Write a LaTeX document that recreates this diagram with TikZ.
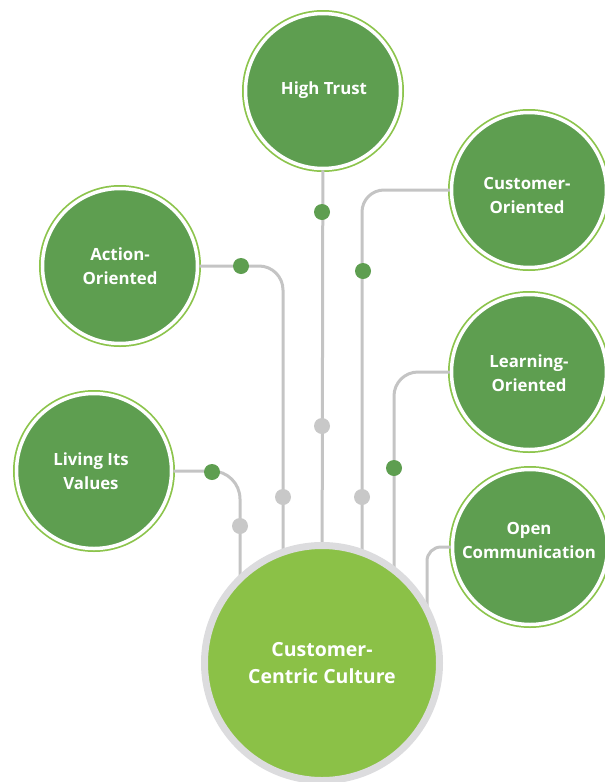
\documentclass[tikz,border=0pt]{standalone}
\usepackage{fontspec}
\setmainfont{Open Sans}
\definecolor{dkgreen}{HTML}{5E9E50}
\definecolor{ltgreen}{HTML}{8BC147}
\definecolor{ringgreen}{HTML}{8CC44C}
\definecolor{linegray}{HTML}{C4C4C4}
\definecolor{ringgray}{HTML}{DCDCDE}
\definecolor{dotgray}{HTML}{C8C8C8}
\tikzset{
  topic/.style={circle, fill=dkgreen, draw=white, line width=3.5pt,
    preaction={draw=ringgreen, line width=7pt},
    minimum size=155pt, inner sep=0pt},
  ttext/.style={text=white, align=center, inner sep=0pt,
    font=\bfseries\fontsize{16.8}{24}\selectfont},
  hub/.style={circle, fill=ltgreen, draw=ringgray, line width=7pt,
    minimum size=235pt, inner sep=0pt, text=white, align=center,
    font=\bfseries\fontsize{19.5}{26.5}\selectfont},
  conn/.style={draw=linegray, line width=3pt},
  gdot/.style={circle, fill=dkgreen, minimum size=16pt, inner sep=0pt},
  ydot/.style={circle, fill=dotgray, minimum size=16pt, inner sep=0pt},
}
\begin{document}
\begin{tikzpicture}[x=1pt,y=-1pt]
\useasboundingbox (0,0) rectangle (605,782);
% end points under the hub
\coordinate (eHT) at (322,620);
\coordinate (eCO) at (362,620);
\coordinate (eAO) at (283,620);
\coordinate (eLV) at (240,620);
\coordinate (eLO) at (394,620);
\coordinate (eOC) at (427,640);
% topic circles
\node[topic] (ht) at (323,91) {};
\node[topic] (co) at (529,190) {};
\node[topic] (ao) at (120,266) {};
\node[topic] (lo) at (529,372) {};
\node[topic] (lv) at (94,471) {};
\node[topic] (oc) at (530,547) {};
\node[ttext] (htt) at (324,90) {High Trust};
\node[ttext] (cot) at (527,195) {Customer-\\Oriented};
\node[ttext] (aot) at (120,266) {Action-\\Oriented};
\node[ttext] (lot) at (529,373) {Learning-\\Oriented};
\node[ttext] (lvt) at (91,471) {Living Its\\Values};
\node[ttext] (oct) at (529,540) {Open\\Communication};
% connectors
\draw[conn] (ht) -- (eHT);
\draw[conn, rounded corners=22pt] (co.west) -| (eCO);
\draw[conn, rounded corners=24pt] (ao.east) -| (eAO);
\draw[conn, rounded corners=24pt] (lo.west) -| (eLO);
\draw[conn, rounded corners=28pt] (lv.east) -| (eLV);
\draw[conn, rounded corners=14pt] (oc.west) -| (eOC);
% dots
\node[gdot] (d1) at (322,212) {};
\node[ydot] (d2) at (322,426) {};
\node[gdot] (d3) at (363,271) {};
\node[ydot] (d4) at (362,497) {};
\node[gdot] (d5) at (241,266) {};
\node[ydot] (d6) at (283,497) {};
\node[gdot] (d7) at (212,472) {};
\node[ydot] (d8) at (240,526) {};
\node[gdot] (d9) at (394,468) {};
% hub
\node[hub] (hub) at (322,663) {Customer-\\Centric Culture};
\end{tikzpicture}
\end{document}
